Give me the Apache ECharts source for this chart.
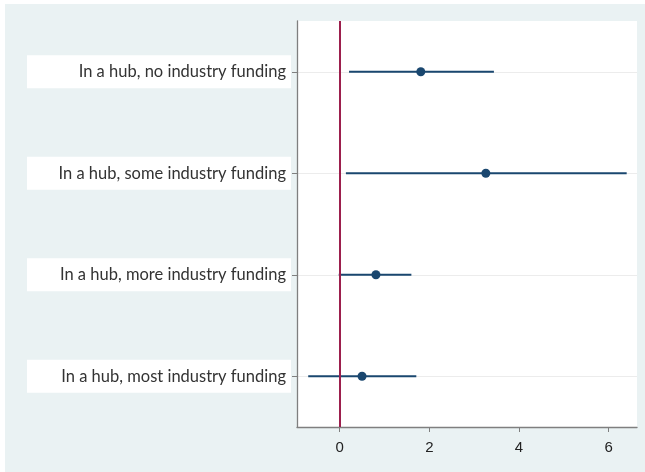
<!DOCTYPE html>
<html>
<head>
<meta charset="utf-8">
<script src="https://cdn.jsdelivr.net/npm/echarts@6/dist/echarts.min.js"></script>
<style>
  html, body { margin: 0; padding: 0; background: #fff; }
  #chart { width: 645px; height: 472px; }
</style>
</head>
<body>
<div id="chart"></div>
<script>
// data
var categories = ['In a hub, no industry funding', 'In a hub, some industry funding',
  'In a hub, more industry funding', 'In a hub, most industry funding'];
var estimate = [1.81, 3.26, 0.81, 0.50];
var lower = [0.21, 0.14, -0.02, -0.70];
var upper = [3.44, 6.40, 1.60, 1.71];
var xTicks = [0, 2, 4, 6];

var navy = '#1a476f';

var rows = categories.map(function (c, i) { return i + 1; });
var pointData = estimate.map(function (v, i) { return [v, rows[i]]; });
var barData = estimate.map(function (v, i) { return [lower[i], upper[i], rows[i]]; });

var myChart = echarts.init(document.getElementById('chart'));

var option = {
  backgroundColor: '#fff',
  animation: false,
  graphic: [{
    type: 'rect', left: 5, top: 4, z: -10,
    shape: { width: 640, height: 468 },
    style: { fill: '#eaf2f3' }
  }],
  grid: {
    left: 297, top: 21, right: 8, bottom: 45,
    show: true, backgroundColor: '#fff', borderWidth: 0
  },
  xAxis: {
    type: 'value',
    min: -0.95,
    max: 6.63,
    axisLine: { show: true, onZero: false, lineStyle: { color: '#7f7f7f', width: 1.3 } },
    axisTick: { show: true, length: 5, customValues: xTicks, lineStyle: { color: '#7f7f7f' } },
    axisLabel: {
      customValues: xTicks, margin: 13,
      fontFamily: 'Liberation Sans', fontSize: 15, color: '#222'
    },
    splitLine: { show: false }
  },
  yAxis: {
    type: 'value',
    inverse: true,
    min: 0.5,
    max: 4.5,
    axisLine: { show: true, onZero: false, lineStyle: { color: '#7f7f7f', width: 1.3 } },
    axisTick: { show: true, length: 5, customValues: rows, lineStyle: { color: '#7f7f7f' } },
    axisLabel: {
      customValues: rows,
      margin: 6,
      formatter: function (v) { return categories[Math.round(v) - 1]; },
      fontFamily: 'Lato', fontSize: 16.5, color: '#333',
      backgroundColor: '#fff',
      width: 259, overflow: 'none', align: 'right',
      lineHeight: 17, padding: [8, 5, 8, 0]
    },
    splitLine: { show: true, lineStyle: { color: '#ececec', width: 1 } }
  },
  series: [
    {
      type: 'custom',
      data: barData,
      encode: { x: [0, 1], y: 2 },
      renderItem: function (params, api) {
        var a = api.coord([api.value(0), api.value(2)]);
        var b = api.coord([api.value(1), api.value(2)]);
        return {
          type: 'line',
          shape: { x1: a[0], y1: a[1], x2: b[0], y2: b[1] },
          style: { stroke: navy, lineWidth: 2 }
        };
      },
      z: 3
    },
    {
      type: 'scatter',
      data: pointData,
      symbolSize: 9,
      itemStyle: { color: navy, opacity: 1 },
      z: 4,
      markLine: {
        silent: true,
        symbol: 'none',
        label: { show: false },
        lineStyle: { color: '#9c1f4d', width: 2, type: 'solid' },
        data: [{ xAxis: 0 }]
      }
    }
  ]
};

myChart.setOption(option);
</script>
</body>
</html>
